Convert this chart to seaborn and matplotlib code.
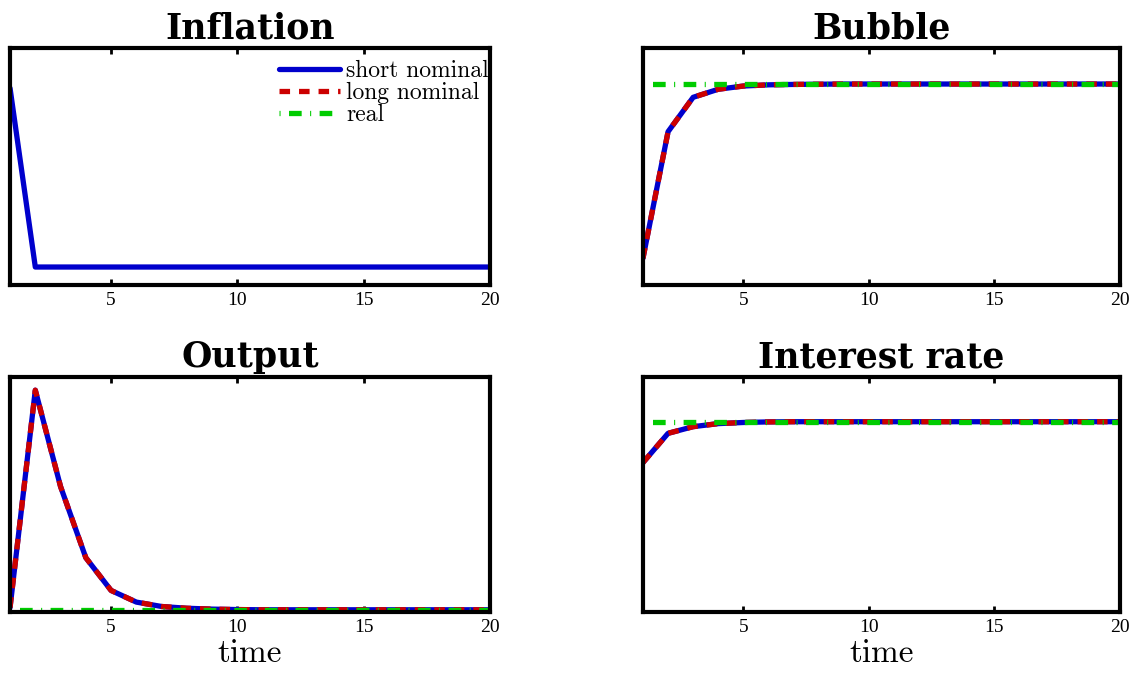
import numpy as np
import pandas as pd
import matplotlib
matplotlib.use("Agg")
import matplotlib.pyplot as plt
import seaborn as sns
from matplotlib.lines import Line2D

# ---- data ----
time = list(range(1, 21))

inflation_short = [0.98] + [0.0] * 19

bubble_nominal = [0.134, 0.763, 0.934, 0.974, 0.990, 0.996, 0.998, 0.999] + [1.0] * 12
bubble_real = [1.0] * 20

output_nominal = [0.01, 1.0, 0.561, 0.237, 0.088, 0.035, 0.015, 0.007, 0.003, 0.001] + [0.0] * 10
output_real = [0.0] * 20

rate_nominal = [0.785, 0.939, 0.974, 0.990, 0.996, 0.999] + [1.0] * 14
rate_real = [1.0] * 20

series_names = ["short nominal", "long nominal", "real"]
colors = {"short nominal": "#0000CC", "long nominal": "#CC0000", "real": "#00CC00"}

sns.set_style("white")
plt.rcParams["axes.unicode_minus"] = False
plt.rcParams["text.color"] = "black"
plt.rcParams["xtick.color"] = "black"

fig = plt.figure(figsize=(11.41, 6.76), dpi=100)

# axes boxes in figure fractions (left, bottom, width, height)
boxes = {
    "Inflation": [0.0088, 0.578, 0.4207, 0.351],
    "Bubble": [0.5635, 0.578, 0.418, 0.351],
    "Output": [0.0088, 0.0947, 0.4207, 0.3476],
    "Interest rate": [0.5635, 0.0947, 0.418, 0.3476],
}
ylims = {
    "Inflation": (-0.1, 1.2),
    "Bubble": (0.0, 1.179),
    "Output": (-0.01, 1.06),
    "Interest rate": (0.0, 1.235),
}
panels = {
    "Inflation": {"short nominal": inflation_short},
    "Bubble": {"short nominal": bubble_nominal, "long nominal": bubble_nominal, "real": bubble_real},
    "Output": {"short nominal": output_nominal, "long nominal": output_nominal, "real": output_real},
    "Interest rate": {"short nominal": rate_nominal, "long nominal": rate_nominal, "real": rate_real},
}

styles = {
    "short nominal": dict(linestyle="-"),
    "long nominal": dict(linestyle=(0, (2.0, 1.7))),
    "real": dict(linestyle=(0, (0.2, 1.6, 2.4, 1.6))),
}

for name, box in boxes.items():
    ax = fig.add_axes(box)
    for s in series_names:
        if s not in panels[name]:
            continue
        df = pd.DataFrame({"time": time, "value": panels[name][s]})
        sns.lineplot(data=df, x="time", y="value", ax=ax, color=colors[s],
                     linewidth=3.8, dash_capstyle="butt", **styles[s])
    ax.set_xlim(1, 20)
    ax.set_ylim(*ylims[name])
    ax.set_xticks([5, 10, 15, 20])
    ax.set_xticklabels(["5", "10", "15", "20"], family="Liberation Serif", fontsize=14)
    ax.set_yticks([])
    ax.tick_params(axis="x", direction="in", top=True, bottom=True, length=4,
                   width=2, pad=5, colors="black")
    for sp in ax.spines.values():
        sp.set_linewidth(3)
        sp.set_color("black")
    ax.set_ylabel("")
    if name in ("Output", "Interest rate"):
        ax.set_xlabel("time", family="cmr10", fontsize=24, labelpad=2, color="black")
    else:
        ax.set_xlabel("")
    ax.set_title(name, family="DejaVu Serif", fontweight="bold", fontsize=25,
                 pad=7, color="black")
    if name == "Inflation":
        handles = [Line2D([], [], color=colors[s], linewidth=3.8,
                          dash_capstyle="butt", **styles[s])
                   for s in series_names]
        ax.legend(handles, series_names, loc="upper right",
                  bbox_to_anchor=(0.997, 0.95), frameon=False,
                  prop={"family": "cmr10", "size": 17}, handlelength=2.6,
                  handletextpad=0.25, labelspacing=0.0, borderaxespad=0.0,
                  borderpad=0.0, labelcolor="black")

fig.savefig("out.png", dpi=100)
